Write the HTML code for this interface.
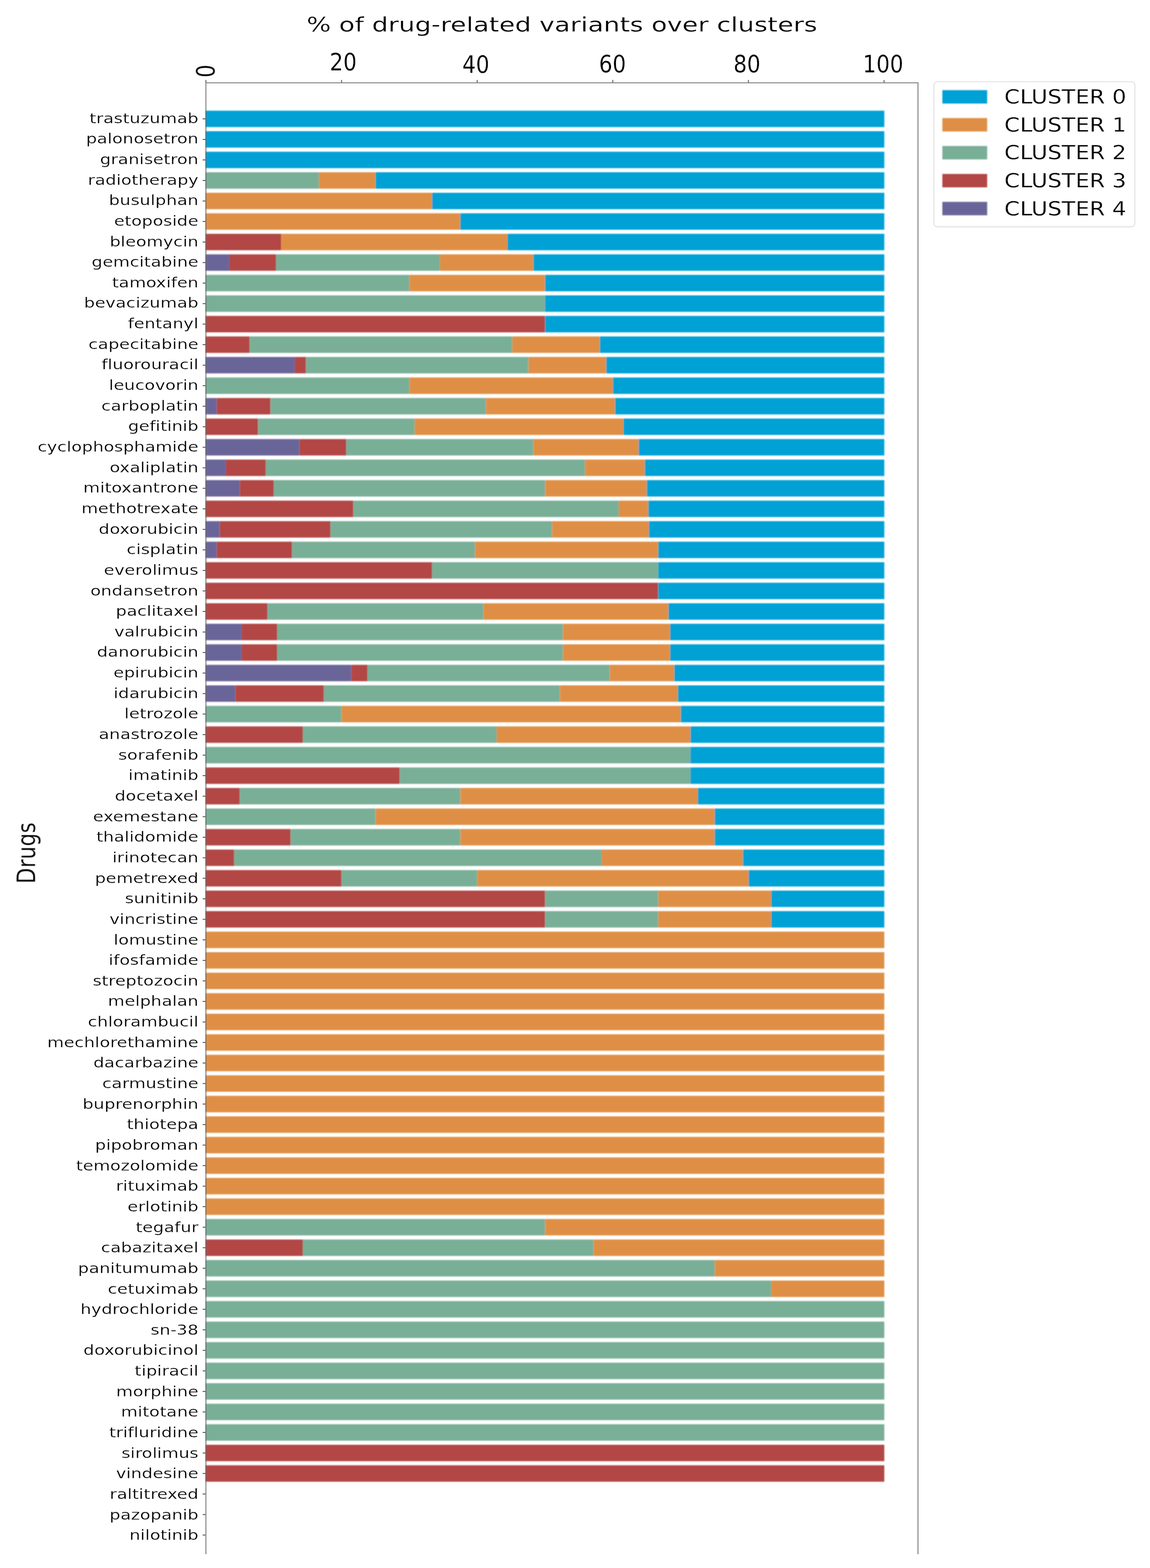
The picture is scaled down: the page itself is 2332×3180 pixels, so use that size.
<!DOCTYPE html>
<html lang="en"><head><meta charset="utf-8"><title>% of drug-related variants over clusters</title>
<style>html,body{margin:0;padding:0;background:#fff}body{width:2332px;height:3180px;overflow:hidden}svg{display:block}text{font-family:"DejaVu Sans","Liberation Sans",sans-serif;fill:#000;font-variant-ligatures:none;font-feature-settings:"liga" 0,"clig" 0}.b{fill:#00A1D5}.o{fill:#DF8F44}.g{fill:#79AF97}.r{fill:#B24745}.p{fill:#6A6599}.lab text{font-size:28.8px;text-anchor:end}.sp{stroke:rgba(0,0,0,0.46);stroke-width:2.2;fill:none}.txt text{stroke:#fff;stroke-width:0.35px;paint-order:fill stroke}.tk{stroke:rgba(0,0,0,0.72);stroke-width:1.7}</style></head><body>
<svg width="2332" height="3180" viewBox="0 0 2332 3180">
<defs>
<filter id="fb" filterUnits="userSpaceOnUse" x="0" y="0" width="2332" height="3180"><feGaussianBlur stdDeviation="1"/></filter>
<filter id="fl" filterUnits="userSpaceOnUse" x="0" y="0" width="2332" height="3180"><feGaussianBlur stdDeviation="0.7"/></filter>
<filter id="ft" filterUnits="userSpaceOnUse" x="0" y="0" width="2332" height="3180"><feGaussianBlur stdDeviation="0.6"/></filter>
</defs>
<g>
<rect x="0" y="0" width="2332" height="3180" fill="#fff"/>
<g filter="url(#fl)"><rect x="1893.7" y="165.6" width="407.6" height="294.4" rx="7" ry="7" fill="#fff" stroke="#e0e0e0" stroke-width="1.9"/></g>
<g class="bars" filter="url(#fb)">
<rect class="b" x="417.5" y="224.45" width="1375.7" height="33.3"/>
<rect class="b" x="417.5" y="266.08" width="1375.7" height="33.3"/>
<rect class="b" x="417.5" y="307.7" width="1375.7" height="33.3"/>
<rect class="g" x="417.5" y="349.33" width="229.28" height="33.3"/>
<rect class="o" x="646.78" y="349.33" width="114.64" height="33.3"/>
<rect class="b" x="761.42" y="349.33" width="1031.78" height="33.3"/>
<rect class="o" x="417.5" y="390.95" width="458.57" height="33.3"/>
<rect class="b" x="876.07" y="390.95" width="917.13" height="33.3"/>
<rect class="o" x="417.5" y="432.58" width="515.89" height="33.3"/>
<rect class="b" x="933.39" y="432.58" width="859.81" height="33.3"/>
<rect class="r" x="417.5" y="474.2" width="152.86" height="33.3"/>
<rect class="o" x="570.36" y="474.2" width="458.57" height="33.3"/>
<rect class="b" x="1028.92" y="474.2" width="764.28" height="33.3"/>
<rect class="p" x="417.5" y="515.83" width="47.44" height="33.3"/>
<rect class="r" x="464.94" y="515.83" width="94.88" height="33.3"/>
<rect class="g" x="559.81" y="515.83" width="332.07" height="33.3"/>
<rect class="o" x="891.88" y="515.83" width="189.75" height="33.3"/>
<rect class="b" x="1081.63" y="515.83" width="711.57" height="33.3"/>
<rect class="g" x="417.5" y="557.45" width="412.71" height="33.3"/>
<rect class="o" x="830.21" y="557.45" width="275.14" height="33.3"/>
<rect class="b" x="1105.35" y="557.45" width="687.85" height="33.3"/>
<rect class="g" x="417.5" y="599.08" width="687.85" height="33.3"/>
<rect class="b" x="1105.35" y="599.08" width="687.85" height="33.3"/>
<rect class="r" x="417.5" y="640.7" width="687.85" height="33.3"/>
<rect class="b" x="1105.35" y="640.7" width="687.85" height="33.3"/>
<rect class="r" x="417.5" y="682.33" width="88.75" height="33.3"/>
<rect class="g" x="506.25" y="682.33" width="532.53" height="33.3"/>
<rect class="o" x="1038.78" y="682.33" width="177.51" height="33.3"/>
<rect class="b" x="1216.29" y="682.33" width="576.91" height="33.3"/>
<rect class="p" x="417.5" y="723.95" width="180.42" height="33.3"/>
<rect class="r" x="597.92" y="723.95" width="22.55" height="33.3"/>
<rect class="g" x="620.47" y="723.95" width="451.05" height="33.3"/>
<rect class="o" x="1071.52" y="723.95" width="157.87" height="33.3"/>
<rect class="b" x="1229.39" y="723.95" width="563.81" height="33.3"/>
<rect class="g" x="417.5" y="765.58" width="412.71" height="33.3"/>
<rect class="o" x="830.21" y="765.58" width="412.71" height="33.3"/>
<rect class="b" x="1242.92" y="765.58" width="550.28" height="33.3"/>
<rect class="p" x="417.5" y="807.2" width="21.84" height="33.3"/>
<rect class="r" x="439.34" y="807.2" width="109.18" height="33.3"/>
<rect class="g" x="548.52" y="807.2" width="436.73" height="33.3"/>
<rect class="o" x="985.25" y="807.2" width="262.04" height="33.3"/>
<rect class="b" x="1247.29" y="807.2" width="545.91" height="33.3"/>
<rect class="r" x="417.5" y="848.83" width="105.82" height="33.3"/>
<rect class="g" x="523.32" y="848.83" width="317.47" height="33.3"/>
<rect class="o" x="840.79" y="848.83" width="423.29" height="33.3"/>
<rect class="b" x="1264.08" y="848.83" width="529.12" height="33.3"/>
<rect class="p" x="417.5" y="890.45" width="189.75" height="33.3"/>
<rect class="r" x="607.25" y="890.45" width="94.88" height="33.3"/>
<rect class="g" x="702.13" y="890.45" width="379.5" height="33.3"/>
<rect class="o" x="1081.63" y="890.45" width="213.47" height="33.3"/>
<rect class="b" x="1295.1" y="890.45" width="498.1" height="33.3"/>
<rect class="p" x="417.5" y="932.08" width="40.46" height="33.3"/>
<rect class="r" x="457.96" y="932.08" width="80.92" height="33.3"/>
<rect class="g" x="538.89" y="932.08" width="647.39" height="33.3"/>
<rect class="o" x="1186.27" y="932.08" width="121.39" height="33.3"/>
<rect class="b" x="1307.66" y="932.08" width="485.54" height="33.3"/>
<rect class="p" x="417.5" y="973.7" width="68.78" height="33.3"/>
<rect class="r" x="486.28" y="973.7" width="68.78" height="33.3"/>
<rect class="g" x="555.07" y="973.7" width="550.28" height="33.3"/>
<rect class="o" x="1105.35" y="973.7" width="206.36" height="33.3"/>
<rect class="b" x="1311.7" y="973.7" width="481.5" height="33.3"/>
<rect class="r" x="417.5" y="1015.32" width="299.07" height="33.3"/>
<rect class="g" x="716.57" y="1015.32" width="538.32" height="33.3"/>
<rect class="o" x="1254.88" y="1015.32" width="59.81" height="33.3"/>
<rect class="b" x="1314.7" y="1015.32" width="478.5" height="33.3"/>
<rect class="p" x="417.5" y="1056.95" width="28.08" height="33.3"/>
<rect class="r" x="445.58" y="1056.95" width="224.6" height="33.3"/>
<rect class="g" x="670.18" y="1056.95" width="449.21" height="33.3"/>
<rect class="o" x="1119.39" y="1056.95" width="196.53" height="33.3"/>
<rect class="b" x="1315.92" y="1056.95" width="477.28" height="33.3"/>
<rect class="p" x="417.5" y="1098.57" width="21.84" height="33.3"/>
<rect class="r" x="439.34" y="1098.57" width="152.86" height="33.3"/>
<rect class="g" x="592.19" y="1098.57" width="371.22" height="33.3"/>
<rect class="o" x="963.41" y="1098.57" width="371.22" height="33.3"/>
<rect class="b" x="1334.63" y="1098.57" width="458.57" height="33.3"/>
<rect class="r" x="417.5" y="1140.2" width="458.57" height="33.3"/>
<rect class="g" x="876.07" y="1140.2" width="458.57" height="33.3"/>
<rect class="b" x="1334.63" y="1140.2" width="458.57" height="33.3"/>
<rect class="r" x="417.5" y="1181.82" width="917.13" height="33.3"/>
<rect class="b" x="1334.63" y="1181.82" width="458.57" height="33.3"/>
<rect class="r" x="417.5" y="1223.45" width="125.06" height="33.3"/>
<rect class="g" x="542.56" y="1223.45" width="437.72" height="33.3"/>
<rect class="o" x="980.29" y="1223.45" width="375.19" height="33.3"/>
<rect class="b" x="1355.48" y="1223.45" width="437.72" height="33.3"/>
<rect class="p" x="417.5" y="1265.07" width="72.41" height="33.3"/>
<rect class="r" x="489.91" y="1265.07" width="72.41" height="33.3"/>
<rect class="g" x="562.31" y="1265.07" width="579.24" height="33.3"/>
<rect class="o" x="1141.55" y="1265.07" width="217.22" height="33.3"/>
<rect class="b" x="1358.77" y="1265.07" width="434.43" height="33.3"/>
<rect class="p" x="417.5" y="1306.7" width="72.41" height="33.3"/>
<rect class="r" x="489.91" y="1306.7" width="72.41" height="33.3"/>
<rect class="g" x="562.31" y="1306.7" width="579.24" height="33.3"/>
<rect class="o" x="1141.55" y="1306.7" width="217.22" height="33.3"/>
<rect class="b" x="1358.77" y="1306.7" width="434.43" height="33.3"/>
<rect class="p" x="417.5" y="1348.32" width="294.79" height="33.3"/>
<rect class="r" x="712.29" y="1348.32" width="32.75" height="33.3"/>
<rect class="g" x="745.05" y="1348.32" width="491.32" height="33.3"/>
<rect class="o" x="1236.37" y="1348.32" width="131.02" height="33.3"/>
<rect class="b" x="1367.39" y="1348.32" width="425.81" height="33.3"/>
<rect class="p" x="417.5" y="1389.95" width="59.81" height="33.3"/>
<rect class="r" x="477.31" y="1389.95" width="179.44" height="33.3"/>
<rect class="g" x="656.75" y="1389.95" width="478.5" height="33.3"/>
<rect class="o" x="1135.26" y="1389.95" width="239.25" height="33.3"/>
<rect class="b" x="1374.51" y="1389.95" width="418.69" height="33.3"/>
<rect class="g" x="417.5" y="1431.57" width="275.14" height="33.3"/>
<rect class="o" x="692.64" y="1431.57" width="687.85" height="33.3"/>
<rect class="b" x="1380.49" y="1431.57" width="412.71" height="33.3"/>
<rect class="r" x="417.5" y="1473.2" width="196.53" height="33.3"/>
<rect class="g" x="614.03" y="1473.2" width="393.06" height="33.3"/>
<rect class="o" x="1007.09" y="1473.2" width="393.06" height="33.3"/>
<rect class="b" x="1400.14" y="1473.2" width="393.06" height="33.3"/>
<rect class="g" x="417.5" y="1514.82" width="982.64" height="33.3"/>
<rect class="b" x="1400.14" y="1514.82" width="393.06" height="33.3"/>
<rect class="r" x="417.5" y="1556.45" width="393.06" height="33.3"/>
<rect class="g" x="810.56" y="1556.45" width="589.59" height="33.3"/>
<rect class="b" x="1400.14" y="1556.45" width="393.06" height="33.3"/>
<rect class="r" x="417.5" y="1598.07" width="68.78" height="33.3"/>
<rect class="g" x="486.28" y="1598.07" width="447.1" height="33.3"/>
<rect class="o" x="933.39" y="1598.07" width="481.5" height="33.3"/>
<rect class="b" x="1414.88" y="1598.07" width="378.32" height="33.3"/>
<rect class="g" x="417.5" y="1639.7" width="343.92" height="33.3"/>
<rect class="o" x="761.42" y="1639.7" width="687.85" height="33.3"/>
<rect class="b" x="1449.27" y="1639.7" width="343.93" height="33.3"/>
<rect class="r" x="417.5" y="1681.32" width="171.96" height="33.3"/>
<rect class="g" x="589.46" y="1681.32" width="343.92" height="33.3"/>
<rect class="o" x="933.39" y="1681.32" width="515.89" height="33.3"/>
<rect class="b" x="1449.27" y="1681.32" width="343.93" height="33.3"/>
<rect class="r" x="417.5" y="1722.95" width="57.32" height="33.3"/>
<rect class="g" x="474.82" y="1722.95" width="745.17" height="33.3"/>
<rect class="o" x="1219.99" y="1722.95" width="286.6" height="33.3"/>
<rect class="b" x="1506.6" y="1722.95" width="286.6" height="33.3"/>
<rect class="r" x="417.5" y="1764.57" width="275.14" height="33.3"/>
<rect class="g" x="692.64" y="1764.57" width="275.14" height="33.3"/>
<rect class="o" x="967.78" y="1764.57" width="550.28" height="33.3"/>
<rect class="b" x="1518.06" y="1764.57" width="275.14" height="33.3"/>
<rect class="r" x="417.5" y="1806.2" width="687.85" height="33.3"/>
<rect class="g" x="1105.35" y="1806.2" width="229.28" height="33.3"/>
<rect class="o" x="1334.63" y="1806.2" width="229.28" height="33.3"/>
<rect class="b" x="1563.92" y="1806.2" width="229.28" height="33.3"/>
<rect class="r" x="417.5" y="1847.82" width="687.85" height="33.3"/>
<rect class="g" x="1105.35" y="1847.82" width="229.28" height="33.3"/>
<rect class="o" x="1334.63" y="1847.82" width="229.28" height="33.3"/>
<rect class="b" x="1563.92" y="1847.82" width="229.28" height="33.3"/>
<rect class="o" x="417.5" y="1889.45" width="1375.7" height="33.3"/>
<rect class="o" x="417.5" y="1931.07" width="1375.7" height="33.3"/>
<rect class="o" x="417.5" y="1972.7" width="1375.7" height="33.3"/>
<rect class="o" x="417.5" y="2014.32" width="1375.7" height="33.3"/>
<rect class="o" x="417.5" y="2055.95" width="1375.7" height="33.3"/>
<rect class="o" x="417.5" y="2097.57" width="1375.7" height="33.3"/>
<rect class="o" x="417.5" y="2139.2" width="1375.7" height="33.3"/>
<rect class="o" x="417.5" y="2180.82" width="1375.7" height="33.3"/>
<rect class="o" x="417.5" y="2222.45" width="1375.7" height="33.3"/>
<rect class="o" x="417.5" y="2264.07" width="1375.7" height="33.3"/>
<rect class="o" x="417.5" y="2305.7" width="1375.7" height="33.3"/>
<rect class="o" x="417.5" y="2347.32" width="1375.7" height="33.3"/>
<rect class="o" x="417.5" y="2388.95" width="1375.7" height="33.3"/>
<rect class="o" x="417.5" y="2430.57" width="1375.7" height="33.3"/>
<rect class="g" x="417.5" y="2472.2" width="687.85" height="33.3"/>
<rect class="o" x="1105.35" y="2472.2" width="687.85" height="33.3"/>
<rect class="r" x="417.5" y="2513.82" width="196.53" height="33.3"/>
<rect class="g" x="614.03" y="2513.82" width="589.59" height="33.3"/>
<rect class="o" x="1203.61" y="2513.82" width="589.59" height="33.3"/>
<rect class="g" x="417.5" y="2555.45" width="1031.77" height="33.3"/>
<rect class="o" x="1449.27" y="2555.45" width="343.93" height="33.3"/>
<rect class="g" x="417.5" y="2597.07" width="1146.42" height="33.3"/>
<rect class="o" x="1563.92" y="2597.07" width="229.28" height="33.3"/>
<rect class="g" x="417.5" y="2638.7" width="1375.7" height="33.3"/>
<rect class="g" x="417.5" y="2680.32" width="1375.7" height="33.3"/>
<rect class="g" x="417.5" y="2721.95" width="1375.7" height="33.3"/>
<rect class="g" x="417.5" y="2763.57" width="1375.7" height="33.3"/>
<rect class="g" x="417.5" y="2805.2" width="1375.7" height="33.3"/>
<rect class="g" x="417.5" y="2846.82" width="1375.7" height="33.3"/>
<rect class="g" x="417.5" y="2888.45" width="1375.7" height="33.3"/>
<rect class="r" x="417.5" y="2930.07" width="1375.7" height="33.3"/>
<rect class="r" x="417.5" y="2971.7" width="1375.7" height="33.3"/>
<rect class="b" x="1910.9" y="182.8" width="90.9" height="27.2"/>
<rect class="o" x="1910.9" y="239.45" width="90.9" height="27.2"/>
<rect class="g" x="1910.9" y="296.1" width="90.9" height="27.2"/>
<rect class="r" x="1910.9" y="352.75" width="90.9" height="27.2"/>
<rect class="p" x="1910.9" y="409.4" width="90.9" height="27.2"/>
</g>
<g filter="url(#fl)">
<path class="sp" d="M417.5 3152 V168 H1861.5 V3152"/>
<g class="tk">
<path d="M410.9 241.1H416.5"/>
<path d="M410.9 282.73H416.5"/>
<path d="M410.9 324.35H416.5"/>
<path d="M410.9 365.98H416.5"/>
<path d="M410.9 407.6H416.5"/>
<path d="M410.9 449.23H416.5"/>
<path d="M410.9 490.85H416.5"/>
<path d="M410.9 532.48H416.5"/>
<path d="M410.9 574.1H416.5"/>
<path d="M410.9 615.73H416.5"/>
<path d="M410.9 657.35H416.5"/>
<path d="M410.9 698.98H416.5"/>
<path d="M410.9 740.6H416.5"/>
<path d="M410.9 782.23H416.5"/>
<path d="M410.9 823.85H416.5"/>
<path d="M410.9 865.48H416.5"/>
<path d="M410.9 907.1H416.5"/>
<path d="M410.9 948.73H416.5"/>
<path d="M410.9 990.35H416.5"/>
<path d="M410.9 1031.97H416.5"/>
<path d="M410.9 1073.6H416.5"/>
<path d="M410.9 1115.22H416.5"/>
<path d="M410.9 1156.85H416.5"/>
<path d="M410.9 1198.47H416.5"/>
<path d="M410.9 1240.1H416.5"/>
<path d="M410.9 1281.72H416.5"/>
<path d="M410.9 1323.35H416.5"/>
<path d="M410.9 1364.97H416.5"/>
<path d="M410.9 1406.6H416.5"/>
<path d="M410.9 1448.22H416.5"/>
<path d="M410.9 1489.85H416.5"/>
<path d="M410.9 1531.47H416.5"/>
<path d="M410.9 1573.1H416.5"/>
<path d="M410.9 1614.72H416.5"/>
<path d="M410.9 1656.35H416.5"/>
<path d="M410.9 1697.97H416.5"/>
<path d="M410.9 1739.6H416.5"/>
<path d="M410.9 1781.22H416.5"/>
<path d="M410.9 1822.85H416.5"/>
<path d="M410.9 1864.47H416.5"/>
<path d="M410.9 1906.1H416.5"/>
<path d="M410.9 1947.72H416.5"/>
<path d="M410.9 1989.35H416.5"/>
<path d="M410.9 2030.97H416.5"/>
<path d="M410.9 2072.6H416.5"/>
<path d="M410.9 2114.22H416.5"/>
<path d="M410.9 2155.85H416.5"/>
<path d="M410.9 2197.47H416.5"/>
<path d="M410.9 2239.1H416.5"/>
<path d="M410.9 2280.72H416.5"/>
<path d="M410.9 2322.35H416.5"/>
<path d="M410.9 2363.97H416.5"/>
<path d="M410.9 2405.6H416.5"/>
<path d="M410.9 2447.22H416.5"/>
<path d="M410.9 2488.85H416.5"/>
<path d="M410.9 2530.47H416.5"/>
<path d="M410.9 2572.1H416.5"/>
<path d="M410.9 2613.72H416.5"/>
<path d="M410.9 2655.35H416.5"/>
<path d="M410.9 2696.97H416.5"/>
<path d="M410.9 2738.6H416.5"/>
<path d="M410.9 2780.22H416.5"/>
<path d="M410.9 2821.85H416.5"/>
<path d="M410.9 2863.47H416.5"/>
<path d="M410.9 2905.1H416.5"/>
<path d="M410.9 2946.72H416.5"/>
<path d="M410.9 2988.35H416.5"/>
<path d="M410.9 3029.97H416.5"/>
<path d="M410.9 3071.6H416.5"/>
<path d="M410.9 3113.22H416.5"/>
<path d="M417.5 162.2V167"/>
<path d="M692.54 162.2V167"/>
<path d="M967.58 162.2V167"/>
<path d="M1242.62 162.2V167"/>
<path d="M1517.66 162.2V167"/>
<path d="M1792.7 162.2V167"/>
</g></g>
<g class="txt" filter="url(#ft)">
<g class="lab">
<text transform="translate(402.4 249.65) scale(1.21 1)">trastuzumab</text>
<text transform="translate(402.4 291.3) scale(1.21 1)">palonosetron</text>
<text transform="translate(402.4 332.94) scale(1.21 1)">granisetron</text>
<text transform="translate(402.4 374.59) scale(1.21 1)">radiotherapy</text>
<text transform="translate(402.4 416.24) scale(1.21 1)">busulphan</text>
<text transform="translate(402.4 457.88) scale(1.21 1)">etoposide</text>
<text transform="translate(402.4 499.53) scale(1.21 1)">bleomycin</text>
<text transform="translate(402.4 541.18) scale(1.21 1)">gemcitabine</text>
<text transform="translate(402.4 582.82) scale(1.21 1)">tamoxifen</text>
<text transform="translate(402.4 624.47) scale(1.21 1)">bevacizumab</text>
<text transform="translate(402.4 666.12) scale(1.21 1)">fentanyl</text>
<text transform="translate(402.4 707.76) scale(1.21 1)">capecitabine</text>
<text transform="translate(402.4 749.41) scale(1.21 1)">fluorouracil</text>
<text transform="translate(402.4 791.05) scale(1.21 1)">leucovorin</text>
<text transform="translate(402.4 832.7) scale(1.21 1)">carboplatin</text>
<text transform="translate(402.4 874.35) scale(1.21 1)">gefitinib</text>
<text transform="translate(402.4 915.99) scale(1.21 1)">cyclophosphamide</text>
<text transform="translate(402.4 957.64) scale(1.21 1)">oxaliplatin</text>
<text transform="translate(402.4 999.29) scale(1.21 1)">mitoxantrone</text>
<text transform="translate(402.4 1040.93) scale(1.21 1)">methotrexate</text>
<text transform="translate(402.4 1082.58) scale(1.21 1)">doxorubicin</text>
<text transform="translate(402.4 1124.23) scale(1.21 1)">cisplatin</text>
<text transform="translate(402.4 1165.87) scale(1.21 1)">everolimus</text>
<text transform="translate(402.4 1207.52) scale(1.21 1)">ondansetron</text>
<text transform="translate(402.4 1249.17) scale(1.21 1)">paclitaxel</text>
<text transform="translate(402.4 1290.81) scale(1.21 1)">valrubicin</text>
<text transform="translate(402.4 1332.46) scale(1.21 1)">danorubicin</text>
<text transform="translate(402.4 1374.11) scale(1.21 1)">epirubicin</text>
<text transform="translate(402.4 1415.75) scale(1.21 1)">idarubicin</text>
<text transform="translate(402.4 1457.4) scale(1.21 1)">letrozole</text>
<text transform="translate(402.4 1499.04) scale(1.21 1)">anastrozole</text>
<text transform="translate(402.4 1540.69) scale(1.21 1)">sorafenib</text>
<text transform="translate(402.4 1582.34) scale(1.21 1)">imatinib</text>
<text transform="translate(402.4 1623.98) scale(1.21 1)">docetaxel</text>
<text transform="translate(402.4 1665.63) scale(1.21 1)">exemestane</text>
<text transform="translate(402.4 1707.28) scale(1.21 1)">thalidomide</text>
<text transform="translate(402.4 1748.92) scale(1.21 1)">irinotecan</text>
<text transform="translate(402.4 1790.57) scale(1.21 1)">pemetrexed</text>
<text transform="translate(402.4 1832.22) scale(1.21 1)">sunitinib</text>
<text transform="translate(402.4 1873.86) scale(1.21 1)">vincristine</text>
<text transform="translate(402.4 1915.51) scale(1.21 1)">lomustine</text>
<text transform="translate(402.4 1957.16) scale(1.21 1)">ifosfamide</text>
<text transform="translate(402.4 1998.8) scale(1.21 1)">streptozocin</text>
<text transform="translate(402.4 2040.45) scale(1.21 1)">melphalan</text>
<text transform="translate(402.4 2082.1) scale(1.21 1)">chlorambucil</text>
<text transform="translate(402.4 2123.74) scale(1.21 1)">mechlorethamine</text>
<text transform="translate(402.4 2165.39) scale(1.21 1)">dacarbazine</text>
<text transform="translate(402.4 2207.04) scale(1.21 1)">carmustine</text>
<text transform="translate(402.4 2248.68) scale(1.21 1)">buprenorphin</text>
<text transform="translate(402.4 2290.33) scale(1.21 1)">thiotepa</text>
<text transform="translate(402.4 2331.97) scale(1.21 1)">pipobroman</text>
<text transform="translate(402.4 2373.62) scale(1.21 1)">temozolomide</text>
<text transform="translate(402.4 2415.27) scale(1.21 1)">rituximab</text>
<text transform="translate(402.4 2456.91) scale(1.21 1)">erlotinib</text>
<text transform="translate(402.4 2498.56) scale(1.21 1)">tegafur</text>
<text transform="translate(402.4 2540.21) scale(1.21 1)">cabazitaxel</text>
<text transform="translate(402.4 2581.85) scale(1.21 1)">panitumumab</text>
<text transform="translate(402.4 2623.5) scale(1.21 1)">cetuximab</text>
<text transform="translate(402.4 2665.15) scale(1.21 1)">hydrochloride</text>
<text transform="translate(402.4 2706.79) scale(1.21 1)">sn-38</text>
<text transform="translate(402.4 2748.44) scale(1.21 1)">doxorubicinol</text>
<text transform="translate(402.4 2790.09) scale(1.21 1)">tipiracil</text>
<text transform="translate(402.4 2831.73) scale(1.21 1)">morphine</text>
<text transform="translate(402.4 2873.38) scale(1.21 1)">mitotane</text>
<text transform="translate(402.4 2915.03) scale(1.21 1)">trifluridine</text>
<text transform="translate(402.4 2956.67) scale(1.21 1)">sirolimus</text>
<text transform="translate(402.4 2998.32) scale(1.21 1)">vindesine</text>
<text transform="translate(402.4 3039.97) scale(1.21 1)">raltitrexed</text>
<text transform="translate(402.4 3081.61) scale(1.21 1)">pazopanib</text>
<text transform="translate(402.4 3123.26) scale(1.21 1)">nilotinib</text>
</g>
<text font-size="51.3" text-anchor="middle" transform="translate(435.4 144.1) rotate(-90) scale(0.81 1)">0</text>
<text font-size="50.2" text-anchor="middle" transform="translate(696 142.8) scale(0.86 1)">20</text>
<text font-size="50.2" text-anchor="middle" transform="translate(965 148) scale(0.86 1)">40</text>
<text font-size="50.2" text-anchor="middle" transform="translate(1242 146.6) scale(0.86 1)">60</text>
<text font-size="50.2" text-anchor="middle" transform="translate(1514.8 146.6) scale(0.86 1)">80</text>
<text font-size="50.2" text-anchor="middle" transform="translate(1790.7 147.1) scale(0.86 1)">100</text>
<text font-size="41.6" text-anchor="middle" transform="translate(1139.5 63.7) scale(1.25 1)">% of drug-related variants over clusters</text>
<text font-size="51.6" text-anchor="middle" transform="translate(71.4 1730.1) rotate(-90) scale(0.81 1)">Drugs</text>
<text font-size="38.7" transform="translate(2036.6 210) scale(1.17 1)">CLUSTER 0</text>
<text font-size="38.7" transform="translate(2036.6 266.65) scale(1.17 1)">CLUSTER 1</text>
<text font-size="38.7" transform="translate(2036.6 323.3) scale(1.17 1)">CLUSTER 2</text>
<text font-size="38.7" transform="translate(2036.6 379.95) scale(1.17 1)">CLUSTER 3</text>
<text font-size="38.7" transform="translate(2036.6 436.6) scale(1.17 1)">CLUSTER 4</text>
</g>
</g></svg></body></html>
